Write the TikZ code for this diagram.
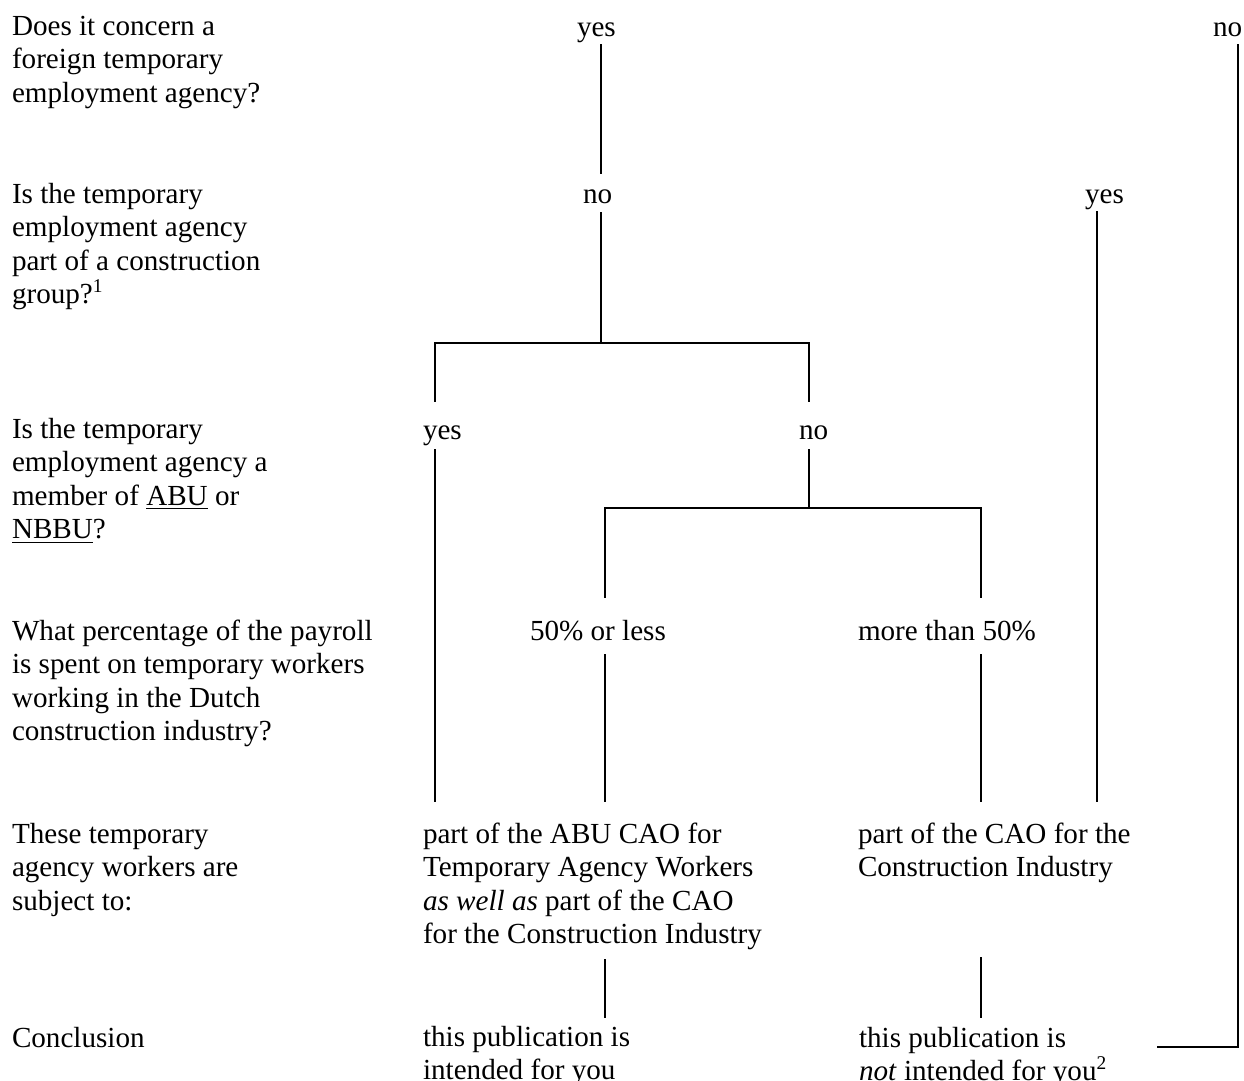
\documentclass[tikz,border=0pt]{standalone}
\usepackage{fontspec}
\setmainfont{Liberation Serif}
\begin{document}
\begin{tikzpicture}[x=0.412pt,y=-0.412pt,
  every node/.style={anchor=north west,inner sep=0pt,outer sep=0pt,align=left,
    font=\fontsize{12}{13.8}\selectfont},
  conn/.style={line width=0.8pt,line cap=rect}]
\useasboundingbox (0,0) rectangle (1244,1081);

% left column: questions
\node (q1) at (12,11.6) {\strut Does it concern a\\foreign temporary\\employment agency?};
\node (q2) at (12,179.6) {\strut Is the temporary\\employment agency\\part of a construction\\group?\textsuperscript{1}};
\node (q3) at (12,414.6) {\strut Is the temporary\\employment agency a\\member of \underline{ABU} or\\\underline{NBBU}?};
\node (q4) at (12,616.6) {\strut What percentage of the payroll\\is spent on temporary workers\\working in the Dutch\\construction industry?};
\node (q5) at (12,819.6) {\strut These temporary\\agency workers are\\subject to:};
\node (q6) at (12,1023.6) {\strut Conclusion};

% answers
\node (a1yes) at (577,12.6) {\strut yes};
\node (a1no) at (1213,12.6) {\strut no};
\node (a2no) at (583,179.6) {\strut no};
\node (a2yes) at (1085,179.6) {\strut yes};
\node (a3yes) at (423,415.6) {\strut yes};
\node (a3no) at (799,415.6) {\strut no};
\node (a4less) at (530,616.6) {\strut 50\% or less};
\node (a4more) at (858,616.6) {\strut more than 50\%};

% results
\node (r1) at (423,819.6) {\strut part of the ABU CAO for\\Temporary Agency Workers\\\textit{as well as} part of the CAO\\for the Construction Industry};
\node (r2) at (858,819.6) {\strut part of the CAO for the\\Construction Industry};

% conclusions
\node (c1) at (423,1022.6) {\strut this publication is\\intended for you};
\node (c2) at (859,1023.6) {\strut this publication is\\\textit{not} intended for you\textsuperscript{2}};

% connector points
\coordinate (p1a) at (601,45);   \coordinate (p1b) at (601,173);
\coordinate (p2a) at (601,213);  \coordinate (j2) at (601,343);
\coordinate (p3l) at (435,401);  \coordinate (p3r) at (809,401);
\coordinate (p4l) at (435,450);  \coordinate (p4lb) at (435,801);
\coordinate (p4r) at (809,450);  \coordinate (j4) at (809,508);
\coordinate (p5l) at (605,597);  \coordinate (p5r) at (981,597);
\coordinate (p6l) at (605,655);  \coordinate (p6lb) at (605,801);
\coordinate (p6r) at (981,655);  \coordinate (p6rb) at (981,801);
\coordinate (py) at (1097,212);  \coordinate (pyb) at (1097,801);
\coordinate (pn) at (1238,45);   \coordinate (pnb) at (1238,1047);
\coordinate (pne) at (1158,1047);
\coordinate (p7l) at (605,960);  \coordinate (p7lb) at (605,1017);
\coordinate (p7r) at (981,958);  \coordinate (p7rb) at (981,1017);

\draw[conn] (p1a) -- (p1b);
\draw[conn] (p2a) -- (j2);
\draw[conn] (p3l) |- (j2) -| (p3r);
\draw[conn] (p4l) -- (p4lb);
\draw[conn] (p4r) -- (j4);
\draw[conn] (p5l) |- (j4) -| (p5r);
\draw[conn] (p6l) -- (p6lb);
\draw[conn] (p6r) -- (p6rb);
\draw[conn] (py) -- (pyb);
\draw[conn] (pn) -- (pnb) -- (pne);
\draw[conn] (p7l) -- (p7lb);
\draw[conn] (p7r) -- (p7rb);
\end{tikzpicture}
\end{document}
